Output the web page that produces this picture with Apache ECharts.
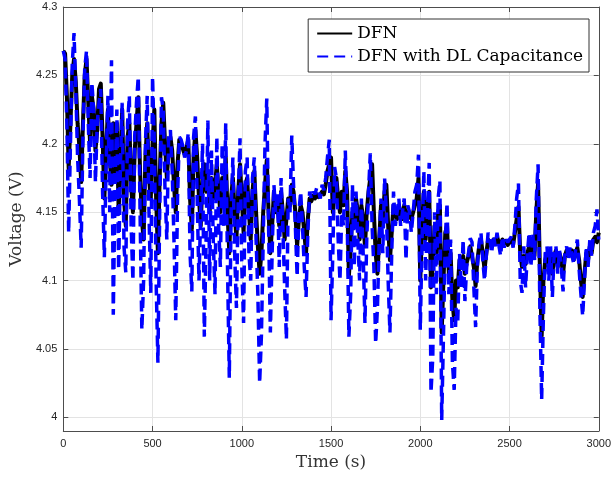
<!DOCTYPE html>
<html><head><meta charset="utf-8">
<script src="https://cdn.jsdelivr.net/npm/echarts@6/dist/echarts.min.js"></script>
<style>html,body{margin:0;padding:0;background:#fff}#c{width:614px;height:479px}</style>
</head><body><div id="c"></div>
<script>
const times = [0,10,20,30,40,50,60,70,80,90,100,110,120,130,140,150,160,170,180,190,200,210,220,230,240,250,260,270,280,290,300,310,320,330,340,350,360,370,380,390,400,410,420,430,440,450,460,470,480,490,500,510,520,530,540,550,560,570,580,590,600,610,620,630,640,650,660,670,680,690,700,710,720,730,740,750,760,770,780,790,800,810,820,830,840,850,860,870,880,890,900,910,920,930,940,950,960,970,980,990,1000,1010,1020,1030,1040,1050,1060,1070,1080,1090,1100,1110,1120,1130,1140,1150,1160,1170,1180,1190,1200,1210,1220,1230,1240,1250,1260,1270,1280,1290,1300,1310,1320,1330,1340,1350,1360,1370,1380,1390,1400,1410,1420,1430,1440,1450,1460,1470,1480,1490,1500,1510,1520,1530,1540,1550,1560,1570,1580,1590,1600,1610,1620,1630,1640,1650,1660,1670,1680,1690,1700,1710,1720,1730,1740,1750,1760,1770,1780,1790,1800,1810,1820,1830,1840,1850,1860,1870,1880,1890,1900,1910,1920,1930,1940,1950,1960,1970,1980,1990,2000,2010,2020,2030,2040,2050,2060,2070,2080,2090,2100,2110,2120,2130,2140,2150,2160,2170,2180,2190,2200,2210,2220,2230,2240,2250,2260,2270,2280,2290,2300,2310,2320,2330,2340,2350,2360,2370,2380,2390,2400,2410,2420,2430,2440,2450,2460,2470,2480,2490,2500,2510,2520,2530,2540,2550,2560,2570,2580,2590,2600,2610,2620,2630,2640,2650,2660,2670,2680,2690,2700,2710,2720,2730,2740,2750,2760,2770,2780,2790,2800,2810,2820,2830,2840,2850,2860,2870,2880,2890,2900,2910,2920,2930,2940,2950,2960,2970,2980,2990,3000];

const dfn = [
4.268,4.266,4.235,4.182,4.215,4.250,4.262,4.245,4.215,4.198,
4.172,4.215,4.250,4.262,4.230,4.200,4.235,4.225,4.195,4.210,
4.240,4.244,4.205,4.160,4.195,4.225,4.190,4.170,4.215,4.180,
4.215,4.150,4.190,4.225,4.160,4.140,4.205,4.215,4.170,4.150,
4.195,4.215,4.234,4.180,4.145,4.130,4.190,4.215,4.175,4.160,
4.200,4.225,4.160,4.120,4.175,4.215,4.230,4.200,4.175,4.195,
4.205,4.195,4.170,4.150,4.185,4.203,4.200,4.196,4.192,4.197,
4.203,4.160,4.137,4.190,4.210,4.190,4.160,4.140,4.175,4.185,
4.165,4.180,4.150,4.175,4.160,4.170,4.185,4.165,4.150,4.175,
4.165,4.190,4.150,4.120,4.160,4.175,4.150,4.130,4.165,4.185,
4.160,4.135,4.170,4.175,4.150,4.130,4.165,4.180,4.150,4.125,
4.105,4.120,4.150,4.170,4.188,4.150,4.120,4.140,4.165,4.150,
4.155,4.140,4.165,4.150,4.130,4.145,4.160,4.155,4.170,4.165,
4.150,4.125,4.145,4.155,4.150,4.135,4.120,4.145,4.160,4.158,
4.162,4.160,4.163,4.161,4.160,4.165,4.163,4.170,4.180,4.185,
4.190,4.150,4.165,4.175,4.160,4.150,4.165,4.155,4.180,4.165,
4.103,4.125,4.150,4.140,4.160,4.150,4.130,4.155,4.145,4.125,
4.150,4.165,4.175,4.185,4.150,4.120,4.105,4.130,4.155,4.145,
4.165,4.170,4.140,4.115,4.135,4.155,4.150,4.145,4.155,4.150,
4.145,4.155,4.148,4.150,4.150,4.145,4.150,4.155,4.160,4.175,
4.100,4.140,4.165,4.130,4.150,4.165,4.095,4.110,4.140,4.120,
4.150,4.155,4.062,4.100,4.135,4.140,4.105,4.120,4.085,4.071,
4.100,4.095,4.115,4.110,4.118,4.105,4.113,4.118,4.125,4.125,
4.110,4.096,4.115,4.125,4.130,4.120,4.108,4.120,4.130,4.128,
4.125,4.130,4.127,4.132,4.128,4.125,4.130,4.127,4.129,4.126,
4.128,4.130,4.126,4.135,4.145,4.154,4.120,4.110,4.118,4.112,
4.120,4.125,4.115,4.125,4.118,4.150,4.171,4.110,4.059,4.100,
4.115,4.120,4.110,4.118,4.105,4.118,4.122,4.110,4.120,4.115,
4.105,4.118,4.122,4.118,4.120,4.122,4.115,4.120,4.124,4.115,
4.100,4.088,4.105,4.120,4.115,4.125,4.120,4.130,4.132,4.128,
4.135];

const dfnDL = [
4.268,4.262,4.215,4.135,4.200,4.258,4.281,4.240,4.190,4.160,
4.124,4.205,4.255,4.268,4.215,4.175,4.245,4.225,4.172,4.215,
4.230,4.240,4.165,4.117,4.185,4.235,4.150,4.261,4.075,4.170,
4.225,4.108,4.185,4.230,4.125,4.106,4.215,4.235,4.140,4.100,
4.205,4.230,4.249,4.150,4.064,4.100,4.200,4.235,4.150,4.091,
4.249,4.200,4.100,4.040,4.150,4.234,4.225,4.165,4.130,4.205,
4.210,4.180,4.130,4.071,4.160,4.205,4.203,4.198,4.190,4.195,
4.208,4.120,4.092,4.205,4.220,4.160,4.100,4.150,4.200,4.059,
4.130,4.217,4.100,4.195,4.130,4.090,4.205,4.140,4.110,4.200,
4.140,4.215,4.110,4.029,4.150,4.190,4.120,4.080,4.160,4.204,
4.110,4.069,4.180,4.190,4.120,4.100,4.175,4.190,4.130,4.090,
4.025,4.060,4.130,4.200,4.233,4.140,4.062,4.120,4.170,4.150,
4.165,4.110,4.175,4.140,4.095,4.057,4.160,4.150,4.206,4.170,
4.140,4.103,4.150,4.165,4.140,4.110,4.088,4.135,4.165,4.160,
4.165,4.163,4.168,4.165,4.160,4.170,4.166,4.175,4.190,4.203,
4.071,4.120,4.183,4.175,4.130,4.100,4.150,4.140,4.195,4.150,
4.059,4.090,4.170,4.110,4.165,4.130,4.100,4.160,4.120,4.069,
4.130,4.165,4.193,4.140,4.110,4.054,4.080,4.130,4.160,4.120,
4.175,4.150,4.100,4.062,4.120,4.165,4.140,4.150,4.160,4.140,
4.140,4.160,4.115,4.155,4.150,4.135,4.150,4.165,4.170,4.192,
4.064,4.130,4.180,4.100,4.150,4.186,4.018,4.044,4.150,4.090,
4.160,4.173,3.998,4.060,4.130,4.157,4.090,4.130,4.040,4.020,
4.080,4.070,4.120,4.095,4.130,4.085,4.110,4.120,4.131,4.128,
4.095,4.066,4.110,4.128,4.135,4.115,4.100,4.118,4.135,4.130,
4.120,4.133,4.125,4.135,4.126,4.118,4.132,4.124,4.130,4.128,
4.128,4.132,4.124,4.140,4.160,4.171,4.100,4.091,4.125,4.095,
4.120,4.135,4.110,4.135,4.115,4.160,4.185,4.080,4.013,4.075,
4.120,4.125,4.100,4.125,4.088,4.120,4.125,4.105,4.122,4.110,
4.092,4.120,4.125,4.115,4.125,4.124,4.112,4.122,4.130,4.108,
4.090,4.074,4.100,4.125,4.110,4.130,4.118,4.135,4.140,4.152,
4.130];

const yTicks = [4, 4.05, 4.1, 4.15, 4.2, 4.25, 4.3];
const seriesNames = ['DFN', 'DFN with DL Capacitance'];

const axisCol = '#4d4d4d';
const gridCol = '#e3e3e3';
const labelFont = {fontFamily: 'Liberation Sans, Arial, sans-serif', fontSize: 11, color: '#262626'};
const serif = 'DejaVu Serif, serif';

const chart = echarts.init(document.getElementById('c'), null, {renderer: 'canvas'});
chart.setOption({
  animation: false,
  backgroundColor: '#fff',
  grid: {left: 62, right: 13, top: 7, bottom: 48, containLabel: false},
  legend: {
    right: 25, top: 19, orient: 'vertical',
    backgroundColor: '#fff', borderColor: '#333', borderWidth: 1, borderRadius: 0,
    padding: [6, 6, 7, 8], itemGap: 6, itemWidth: 35, itemHeight: 14,
    itemStyle: {opacity: 0, borderWidth: 0},
    textStyle: {fontFamily: serif, fontSize: 17, color: '#000'},
    data: seriesNames
  },
  xAxis: [{
    type: 'value', min: 0, max: 3000, interval: 500,
    name: 'Time (s)', nameLocation: 'middle', nameGap: 23,
    nameTextStyle: {fontFamily: serif, fontSize: 17, color: '#333'},
    axisLine: {show: true, onZero: false, lineStyle: {color: axisCol, width: 1}},
    axisTick: {show: true, inside: true, length: 5, lineStyle: {color: axisCol}},
    axisLabel: Object.assign({margin: 7, formatter: v => String(v)}, labelFont),
    splitLine: {show: true, lineStyle: {color: gridCol, width: 1}}
  }, {
    type: 'value', position: 'top', min: 0, max: 3000, interval: 500,
    axisLine: {show: true, onZero: false, lineStyle: {color: axisCol, width: 1}},
    axisTick: {show: true, inside: true, length: 5, lineStyle: {color: axisCol}},
    axisLabel: {show: false}, splitLine: {show: false}
  }],
  yAxis: [{
    type: 'value', min: 3.99, max: 4.3,
    name: 'Voltage (V)', nameLocation: 'middle', nameGap: 37, nameRotate: 90,
    nameTextStyle: {fontFamily: serif, fontSize: 17, color: '#333'},
    axisLine: {show: true, onZero: false, lineStyle: {color: axisCol, width: 1}},
    axisTick: {show: true, inside: true, length: 5, customValues: yTicks, lineStyle: {color: axisCol}},
    axisLabel: Object.assign({margin: 6, customValues: yTicks}, labelFont),
    splitLine: {show: true, lineStyle: {color: gridCol, width: 1}}
  }, {
    type: 'value', position: 'right', min: 3.99, max: 4.3,
    axisLine: {show: true, onZero: false, lineStyle: {color: axisCol, width: 1}},
    axisTick: {show: true, inside: true, length: 5, customValues: yTicks, lineStyle: {color: axisCol}},
    axisLabel: {show: false}, splitLine: {show: false}
  }],
  series: [{
    name: seriesNames[0], type: 'line', symbol: 'none', showSymbol: false,
    data: times.map((t, i) => [t, dfn[i]]),
    lineStyle: {color: '#000', width: 4, join: 'round'},
    itemStyle: {color: '#000'}, z: 2
  }, {
    name: seriesNames[1], type: 'line', symbol: 'none', showSymbol: false,
    data: times.map((t, i) => [t, dfnDL[i]]),
    lineStyle: {color: '#0000ff', width: 3.5, type: [11, 6]},
    itemStyle: {color: '#0000ff'}, z: 3
  }]
});
</script></body></html>
